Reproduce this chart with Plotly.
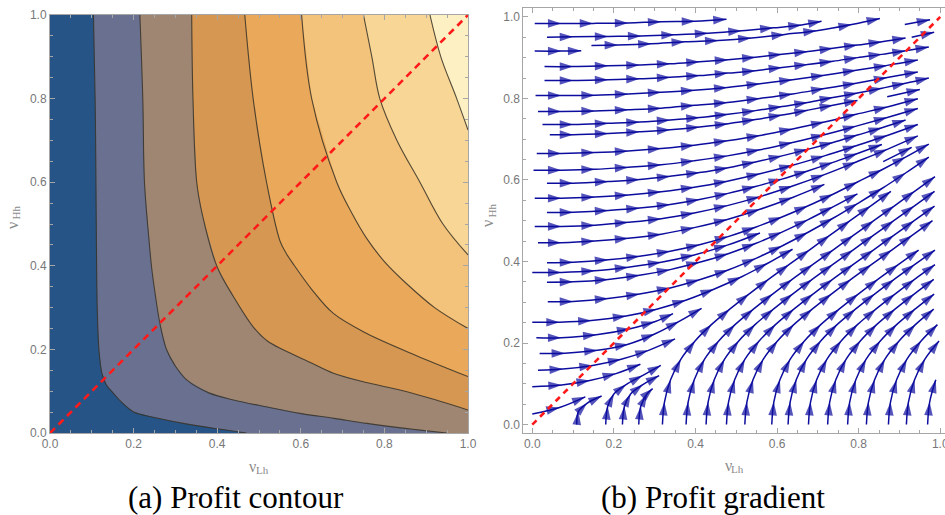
import plotly.graph_objects as go

# ---------------- Panel (a): profit contour (lines) ----------------
CONTOUR_X = [
    [0.104, 0.108, 0.110, 0.111, 0.113, 0.117, 0.124, 0.135, 0.151, 0.170, 0.199, 0.250, 0.319, 0.400, 0.470],
    [0.215, 0.222, 0.226, 0.237, 0.243, 0.252, 0.263, 0.279, 0.300, 0.327, 0.380, 0.439, 0.520, 0.598, 0.680, 0.758, 0.850, 0.949],
    [0.339, 0.342, 0.351, 0.365, 0.400, 0.439, 0.486, 0.520, 0.558, 0.620, 0.678, 0.760, 0.837, 0.920, 1.000],
    [0.466, 0.486, 0.518, 0.550, 0.565, 0.585, 0.625, 0.678, 0.758, 0.877, 1.000],
    [0.602, 0.626, 0.686, 0.720, 0.758, 0.800, 0.850, 0.920, 1.000],
    [0.750, 0.770, 0.789, 0.830, 0.885, 0.940, 1.000],
    [0.909, 0.935, 0.973, 1.000],
]
CONTOUR_Y = [
    [1.0, 0.8, 0.6, 0.46, 0.3, 0.2, 0.144, 0.115, 0.096, 0.075, 0.051, 0.037, 0.023, 0.010, 0.0],
    [1.0, 0.8, 0.6, 0.46, 0.397, 0.33, 0.262, 0.199, 0.16, 0.127, 0.096, 0.079, 0.062, 0.047, 0.035, 0.023, 0.011, 0.0],
    [1.0, 0.8, 0.6, 0.52, 0.397, 0.326, 0.254, 0.22, 0.199, 0.17, 0.143, 0.12, 0.103, 0.08, 0.055],
    [1.0, 0.8, 0.6, 0.46, 0.43, 0.40, 0.345, 0.286, 0.238, 0.185, 0.135],
    [1.0, 0.8, 0.6, 0.53, 0.465, 0.41, 0.36, 0.30, 0.25],
    [1.0, 0.9, 0.8, 0.7, 0.6, 0.5, 0.426],
    [1.0, 0.9, 0.8, 0.725],
]
REGION_COLORS = ["#265486", "#6a7190", "#9f8672", "#d59752", "#eaa95a", "#f3c27b", "#f8d696", "#fdf0c3"]
UNIT_SQUARE_X = [0.0, 1.0, 1.0, 0.0]
UNIT_SQUARE_Y = [0.0, 0.0, 1.0, 1.0]
DIAG = [0.0, 1.0]
TICKS = [0.0, 0.2, 0.4, 0.6, 0.8, 1.0]
TICK_TEXT = ["0.0", "0.2", "0.4", "0.6", "0.8", "1.0"]

# ---------------- Panel (b): stream lines (start point + arrow positions) ----------------
GA = [0.071, 0.153, 0.235, 0.316, 0.397, 0.478, 0.558, 0.638, 0.716, 0.794, 0.870, 0.945]
GB = [0.100, 0.186, 0.263, 0.338, 0.410, 0.480, 0.547, 0.612, 0.675, 0.737, 0.797, 0.857, 0.915, 0.972]

ROWS_X = [
    [0.006, 0.071, 0.149, 0.235, 0.316, 0.399, 0.476],
    [0.036, 0.100, 0.186, 0.267, 0.349, 0.431, 0.513, 0.591, 0.660, 0.709],
    [0.145, 0.210, 0.292, 0.374, 0.456, 0.537, 0.619, 0.697, 0.783, 0.852],
    [0.006, 0.071, 0.120],
    [0.030] + GB[:13],
    [0.030] + GB,
    [0.008] + GA,
    [0.014] + GA,
    [0.025] + GB,
    [0.043] + GB[:11],
    [0.011] + GA,
    [0.003] + GA,
    [0.036] + GB[:13],
    [0.006] + GA,
    [0.036] + GB[:12],
    [0.006] + GA,
    [0.014] + GA[:9],
    [0.036] + GB,
    [0.000] + GA[:7],
    [0.036] + GB[:11],
    [0.038] + GB,
    [0.000, 0.067, 0.145, 0.230, 0.305, 0.376, 0.445, 0.512, 0.576, 0.638],
    [0.010, 0.071, 0.157, 0.240, 0.300, 0.345],
    [0.018, 0.080, 0.160, 0.235, 0.300, 0.360, 0.415],
    [0.014, 0.075, 0.148, 0.218, 0.285, 0.350],
    [0.000, 0.072, 0.141, 0.205, 0.265],
    [0.000, 0.067, 0.130],
]
ROWS_Y = [
    [0.984, 0.984, 0.984, 0.985, 0.988, 0.989, 0.994],
    [0.950, 0.951, 0.952, 0.953, 0.956, 0.960, 0.966, 0.973, 0.980, 0.989],
    [0.930, 0.931, 0.934, 0.939, 0.942, 0.948, 0.957, 0.966, 0.981, 0.996],
    [0.916, 0.916, 0.917],
    [0.878, 0.878, 0.880, 0.882, 0.885, 0.890, 0.895, 0.901, 0.908, 0.915, 0.923, 0.931, 0.939, 0.948],
    [0.844, 0.844, 0.846, 0.848, 0.852, 0.856, 0.862, 0.868, 0.876, 0.883, 0.891, 0.900, 0.908, 0.917, 0.926],
    [0.807, 0.807, 0.808, 0.811, 0.815, 0.820, 0.827, 0.836, 0.846, 0.857, 0.869, 0.881, 0.894],
    [0.768, 0.768, 0.769, 0.772, 0.776, 0.783, 0.790, 0.800, 0.811, 0.824, 0.837, 0.851, 0.865],
    [0.736, 0.736, 0.739, 0.742, 0.747, 0.753, 0.761, 0.770, 0.780, 0.790, 0.802, 0.813, 0.825, 0.837, 0.850],
    [0.711, 0.711, 0.714, 0.718, 0.723, 0.730, 0.738, 0.748, 0.759, 0.771, 0.783, 0.795],
    [0.665, 0.665, 0.667, 0.671, 0.677, 0.685, 0.696, 0.709, 0.725, 0.742, 0.761, 0.779, 0.799],
    [0.624, 0.624, 0.626, 0.631, 0.637, 0.647, 0.659, 0.674, 0.692, 0.711, 0.732, 0.753, 0.775],
    [0.592, 0.592, 0.596, 0.601, 0.609, 0.618, 0.630, 0.644, 0.659, 0.675, 0.692, 0.710, 0.728, 0.747],
    [0.555, 0.555, 0.558, 0.563, 0.571, 0.582, 0.597, 0.615, 0.636, 0.659, 0.684, 0.709, 0.736],
    [0.520, 0.521, 0.525, 0.531, 0.540, 0.552, 0.567, 0.584, 0.602, 0.622, 0.643, 0.665, 0.687],
    [0.486, 0.486, 0.489, 0.496, 0.505, 0.519, 0.537, 0.559, 0.585, 0.613, 0.644, 0.675, 0.708],
    [0.446, 0.446, 0.450, 0.457, 0.467, 0.483, 0.503, 0.528, 0.557, 0.589],
    [0.397, 0.398, 0.404, 0.413, 0.425, 0.441, 0.461, 0.484, 0.509, 0.536, 0.565, 0.595, 0.625, 0.656, 0.688],
    [0.373, 0.373, 0.377, 0.386, 0.398, 0.416, 0.440, 0.470],
    [0.349, 0.350, 0.356, 0.366, 0.380, 0.398, 0.419, 0.444, 0.472, 0.502, 0.534, 0.566],
    [0.301, 0.302, 0.309, 0.320, 0.335, 0.355, 0.379, 0.407, 0.438, 0.471, 0.506, 0.542, 0.579, 0.617, 0.656],
    [0.251, 0.251, 0.255, 0.266, 0.283, 0.305, 0.332, 0.362, 0.395, 0.430],
    [0.213, 0.213, 0.220, 0.235, 0.252, 0.272],
    [0.174, 0.175, 0.182, 0.197, 0.222, 0.253, 0.285],
    [0.133, 0.136, 0.145, 0.160, 0.182, 0.210],
    [0.093, 0.097, 0.108, 0.125, 0.148],
    [0.026, 0.042, 0.068],
]

BOTTOM_X = [
    [0.109, 0.113, 0.134, 0.170],
    [0.180, 0.185, 0.200, 0.230, 0.270, 0.315],
    [0.221, 0.226, 0.241, 0.271, 0.311],
    [0.261, 0.266, 0.281, 0.295],
    [0.319, 0.324, 0.339, 0.364, 0.399, 0.439, 0.484, 0.531, 0.579, 0.629, 0.679, 0.729, 0.779, 0.829, 0.879],
    [0.377, 0.382, 0.397, 0.422, 0.457, 0.497, 0.542, 0.589, 0.637, 0.687, 0.737, 0.787, 0.837, 0.887, 0.937, 0.987],
    [0.426, 0.431, 0.446, 0.471, 0.506, 0.546, 0.591, 0.638, 0.686, 0.736, 0.786, 0.836, 0.886, 0.936, 0.986],
    [0.476, 0.481, 0.496, 0.521, 0.556, 0.596, 0.641, 0.688, 0.736, 0.786, 0.836, 0.886, 0.936, 0.986],
    [0.521, 0.526, 0.541, 0.566, 0.601, 0.641, 0.686, 0.733, 0.781, 0.831, 0.881, 0.931, 0.981],
    [0.587, 0.592, 0.607, 0.632, 0.667, 0.707, 0.752, 0.799, 0.847, 0.897, 0.947],
    [0.627, 0.632, 0.647, 0.672, 0.707, 0.747, 0.792, 0.839, 0.887, 0.937, 0.987],
    [0.677, 0.682, 0.697, 0.722, 0.757, 0.797, 0.842, 0.889, 0.937, 0.987],
    [0.724, 0.729, 0.744, 0.769, 0.804, 0.844, 0.889, 0.936, 0.984],
    [0.773, 0.778, 0.793, 0.818, 0.853, 0.893, 0.938, 0.985],
    [0.819, 0.824, 0.839, 0.864, 0.899, 0.939, 0.984],
    [0.873, 0.878, 0.893, 0.918, 0.953, 0.993],
    [0.917, 0.922, 0.937, 0.962, 0.997],
    [0.969, 0.974, 0.989],
]
BOTTOM_Y = [
    [0.0, 0.032, 0.052, 0.070],
    [0.0, 0.045, 0.075, 0.098, 0.120, 0.145],
    [0.0, 0.045, 0.075, 0.098, 0.120],
    [0.0, 0.045, 0.075, 0.088],
    [0.0, 0.055, 0.110, 0.160, 0.205, 0.245, 0.283, 0.320, 0.356, 0.392, 0.428, 0.464, 0.500, 0.536, 0.572],
    [0.0, 0.055, 0.110, 0.160, 0.205, 0.245, 0.283, 0.320, 0.356, 0.392, 0.428, 0.464, 0.500, 0.536, 0.572, 0.608],
    [0.0, 0.055, 0.110, 0.160, 0.205, 0.245, 0.283, 0.320, 0.356, 0.392, 0.428, 0.464, 0.500, 0.536, 0.572],
    [0.0, 0.055, 0.110, 0.160, 0.205, 0.245, 0.283, 0.320, 0.356, 0.392, 0.428, 0.464, 0.500, 0.536],
    [0.0, 0.055, 0.110, 0.160, 0.205, 0.245, 0.283, 0.320, 0.356, 0.392, 0.428, 0.464, 0.500],
    [0.0, 0.055, 0.110, 0.160, 0.205, 0.245, 0.283, 0.320, 0.356, 0.392, 0.428],
    [0.0, 0.055, 0.110, 0.160, 0.205, 0.245, 0.283, 0.320, 0.356, 0.392, 0.428],
    [0.0, 0.055, 0.110, 0.160, 0.205, 0.245, 0.283, 0.320, 0.356, 0.392],
    [0.0, 0.055, 0.110, 0.160, 0.205, 0.245, 0.283, 0.320, 0.356],
    [0.0, 0.055, 0.110, 0.160, 0.205, 0.245, 0.283, 0.320],
    [0.0, 0.055, 0.110, 0.160, 0.205, 0.245, 0.283],
    [0.0, 0.055, 0.110, 0.160, 0.205, 0.245],
    [0.0, 0.055, 0.110, 0.160, 0.205],
    [0.0, 0.055, 0.110],
]

SHORT_X = [[0.913, 0.975], [0.930, 0.985], [0.860, 0.930], [0.870, 0.950]]
SHORT_Y = [[0.981, 0.993], [0.950, 0.962], [0.645, 0.680], [0.804, 0.822]]

STREAM_COLOR = "#0c0c9e"
FRAME = "#a6a6a6"
TICK_FONT = dict(family="Liberation Sans, Arial, sans-serif", size=12, color="#777777")

fig = go.Figure()

# ---- panel (a) filled bands ----
fig.add_trace(go.Scatter(x=UNIT_SQUARE_X, y=UNIT_SQUARE_Y, fill="toself", mode="lines",
                         line=dict(width=0), fillcolor=REGION_COLORS[0], xaxis="x", yaxis="y",
                         hoverinfo="skip", showlegend=False))
for k in range(len(CONTOUR_X)):
    cx = list(CONTOUR_X[k])
    cy = list(CONTOUR_Y[k])
    # close the band through the right-hand corners of the unit square
    if cy[-1] == 0.0:
        px = cx + [1.0, 1.0]
        py = cy + [0.0, 1.0]
    else:
        px = cx + [1.0]
        py = cy + [1.0]
    fig.add_trace(go.Scatter(x=px, y=py, fill="toself", mode="lines", line=dict(width=0),
                             fillcolor=REGION_COLORS[k + 1], xaxis="x", yaxis="y",
                             hoverinfo="skip", showlegend=False))
for k in range(len(CONTOUR_X)):
    fig.add_trace(go.Scatter(x=CONTOUR_X[k], y=CONTOUR_Y[k], mode="lines",
                             line=dict(color="rgba(55,50,40,0.85)", width=1.1, shape="spline"),
                             xaxis="x", yaxis="y", hoverinfo="skip", showlegend=False))
fig.add_trace(go.Scatter(x=DIAG, y=DIAG, mode="lines",
                         line=dict(color="#ff1a1a", width=2.6, dash="7px,5px"),
                         xaxis="x", yaxis="y", hoverinfo="skip", showlegend=False))


# ---- panel (b) stream lines ----
def add_stream(xs, ys):
    sizes = [0] + [14] * (len(xs) - 1)
    fig.add_trace(go.Scatter(
        x=xs, y=ys, mode="lines+markers",
        line=dict(color=STREAM_COLOR, width=1.5, shape="spline"),
        marker=dict(symbol="arrow", size=sizes, angleref="previous", color=STREAM_COLOR,
                    line=dict(width=0)),
        xaxis="x2", yaxis="y2", hoverinfo="skip", showlegend=False))


for xs, ys in zip(ROWS_X, ROWS_Y):
    add_stream(xs, ys)
for xs, ys in zip(BOTTOM_X, BOTTOM_Y):
    add_stream(xs, ys)
for xs, ys in zip(SHORT_X, SHORT_Y):
    add_stream(xs, ys)

fig.add_trace(go.Scatter(x=DIAG, y=DIAG, mode="lines",
                         line=dict(color="#ff1a1a", width=2.6, dash="6px,5px"),
                         xaxis="x2", yaxis="y2", hoverinfo="skip", showlegend=False))

W, H = 945, 515


def axis(domain, rng, anchor, mirror=True):
    return dict(domain=domain, range=rng, anchor=anchor, showgrid=False, zeroline=False,
                automargin=False, ticklabeloverflow="allow",
                showline=True, linecolor=FRAME, linewidth=1, mirror="allticks" if mirror else False,
                ticks="inside", ticklen=5, tickwidth=1, tickcolor=FRAME,
                tickvals=TICKS, ticktext=TICK_TEXT, tickfont=TICK_FONT,
                minor=dict(ticks="inside", ticklen=3, tickwidth=1, tickcolor=FRAME,
                           dtick=0.05, tick0=0.0, showgrid=False),
                fixedrange=True)


nu_font = dict(family="Liberation Serif, Times New Roman, serif", size=16, color="#8a8a8a")
sub_font = dict(family="Liberation Serif, Times New Roman, serif", size=11, color="#8a8a8a")
cap_font = dict(family="Liberation Serif, Times New Roman, serif", size=31, color="#000000")


def note(text, px, py, font, angle=0):
    return dict(text=text, x=px / W, y=1 - py / H, xref="paper", yref="paper", showarrow=False,
                font=font, textangle=angle, xanchor="center", yanchor="middle")


fig.update_layout(
    width=W, height=H, margin=dict(l=0, r=0, t=0, b=0),
    paper_bgcolor="white", plot_bgcolor="white", showlegend=False,
    xaxis=axis([50 / W, 468 / W], [0, 1], "y"),
    yaxis=axis([1 - 433 / H, 1 - 15 / H], [0, 1], "x"),
    xaxis2=axis([523.3 / W, 1.0], [-0.022, 1.0116], "y2"),
    yaxis2=axis([1 - 432.7 / H, 1 - 8.3 / H], [-0.02, 1.021], "x2", mirror=False),
    annotations=[
        note("ν", 253, 466, nu_font),
        note("Lh", 262, 470, sub_font),
        note("ν", 12, 226, nu_font, -90),
        note("Hh", 15.5, 212, sub_font, -90),
        note("ν", 728, 465, nu_font),
        note("Lh", 737, 469, sub_font),
        note("ν", 488, 224, nu_font, -90),
        note("Hh", 491.5, 210, sub_font, -90),
        note("(a) Profit contour", 236, 497, cap_font),
        note("(b) Profit gradient", 713, 497, cap_font),
    ],
)

fig.write_html("out.html")
